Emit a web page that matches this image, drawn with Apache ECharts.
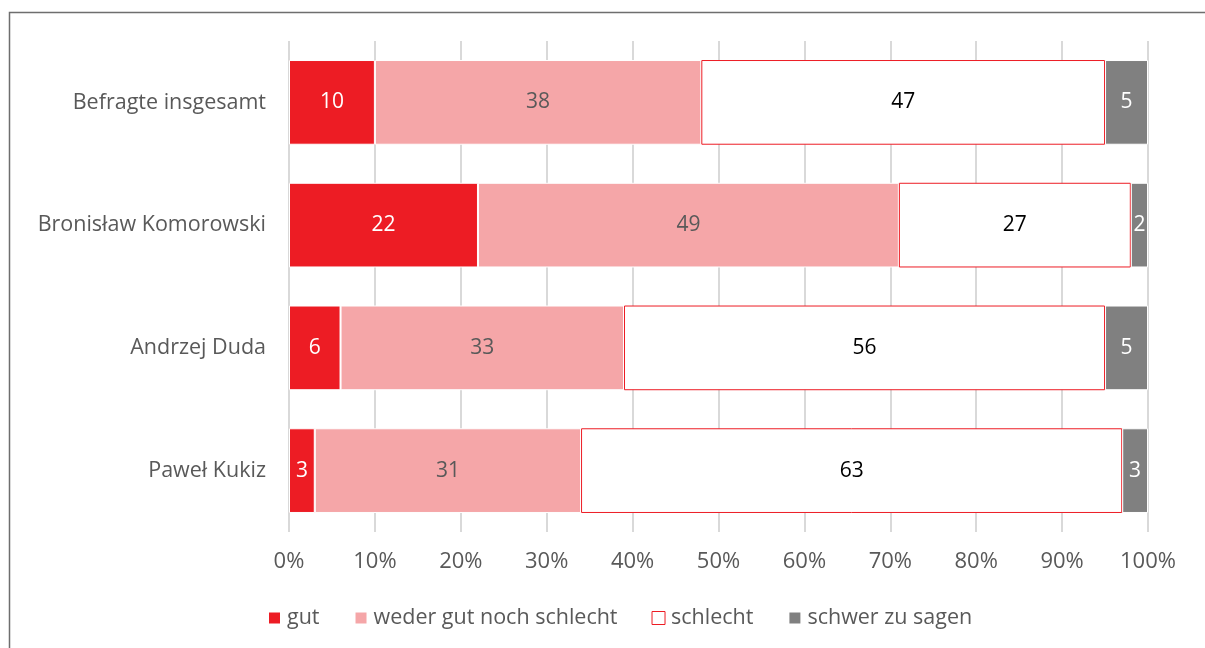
<!DOCTYPE html>
<html>
<head>
<meta charset="utf-8">
<script src="https://cdn.jsdelivr.net/npm/echarts@6/dist/echarts.min.js"></script>
<style>
  html, body { margin: 0; padding: 0; background: #fff; }
  #chart { width: 1205px; height: 648px; }
</style>
</head>
<body>
<div id="chart"></div>
<script>
// Ratings of the situation, by respondent group (percent)
const categories = ['Befragte insgesamt', 'Bronisław Komorowski', 'Andrzej Duda', 'Paweł Kukiz'];
const gut = [10, 22, 6, 3];
const weder = [38, 49, 33, 31];
const schlecht = [47, 27, 56, 63];
const schwer = [5, 2, 5, 3];
const xTicks = [0, 10, 20, 30, 40, 50, 60, 70, 80, 90, 100];

const FONT = '"Open Sans", Lato, sans-serif';
const RED = '#ED1C24';
const PINK = '#F5A6A8';
const GREY = '#808080';

function seriesDef(name, data, itemStyle, labelColor) {
  return {
    name: name,
    type: 'bar',
    stack: 'total',
    data: data,
    barCategoryGap: '31%',
    itemStyle: itemStyle,
    label: {
      show: true,
      position: 'inside',
      color: labelColor,
      fontFamily: FONT,
      fontSize: 21
    },
    emphasis: { disabled: true }
  };
}

const chart = echarts.init(document.getElementById('chart'));
chart.setOption({
  animation: false,
  textStyle: { fontFamily: FONT },
  grid: { left: 289, right: 57, top: 41, bottom: 116, containLabel: false },
  xAxis: {
    type: 'value',
    min: 0,
    max: 100,
    interval: 10,
    axisLine: { show: false },
    axisTick: { show: false },
    axisLabel: {
      formatter: v => xTicks.includes(v) ? v + '%' : '',
      color: '#595959',
      fontSize: 22,
      fontFamily: FONT,
      margin: 19
    },
    splitLine: { show: true, lineStyle: { color: '#d9d9d9', width: 2 } }
  },
  yAxis: {
    type: 'category',
    data: categories,
    inverse: true,
    axisLine: { show: false },
    axisTick: { show: false },
    axisLabel: {
      color: '#595959',
      fontSize: 21.5,
      fontFamily: FONT,
      margin: 23
    }
  },
  legend: {
    left: 262,
    top: 602,
    itemWidth: 13,
    itemHeight: 13,
    itemGap: 34,
    icon: 'rect',
    textStyle: { color: '#595959', fontSize: 21.5, fontFamily: FONT, padding: [0, 0, 0, 1] },
    data: [
      { name: 'gut' },
      { name: 'weder gut noch schlecht' },
      { name: 'schlecht', itemStyle: { color: '#fff', borderColor: RED, borderWidth: 1 } },
      { name: 'schwer zu sagen' }
    ]
  },
  series: [
    seriesDef('gut', gut, { color: RED, borderColor: '#fff', borderWidth: 1 }, '#fff'),
    seriesDef('weder gut noch schlecht', weder, { color: PINK, borderColor: '#fff', borderWidth: 1 }, '#595959'),
    seriesDef('schlecht', schlecht, { color: '#fff', borderColor: RED, borderWidth: 1 }, '#000'),
    seriesDef('schwer zu sagen', schwer, { color: GREY, borderColor: '#fff', borderWidth: 1 }, '#fff')
  ],
  graphic: [
    {
      type: 'rect',
      silent: true,
      shape: { x: 9.5, y: 12.5, width: 1300, height: 700 },
      style: { fill: 'none', stroke: '#6e6e6e', lineWidth: 1.5 }
    }
  ]
});
</script>
</body>
</html>
